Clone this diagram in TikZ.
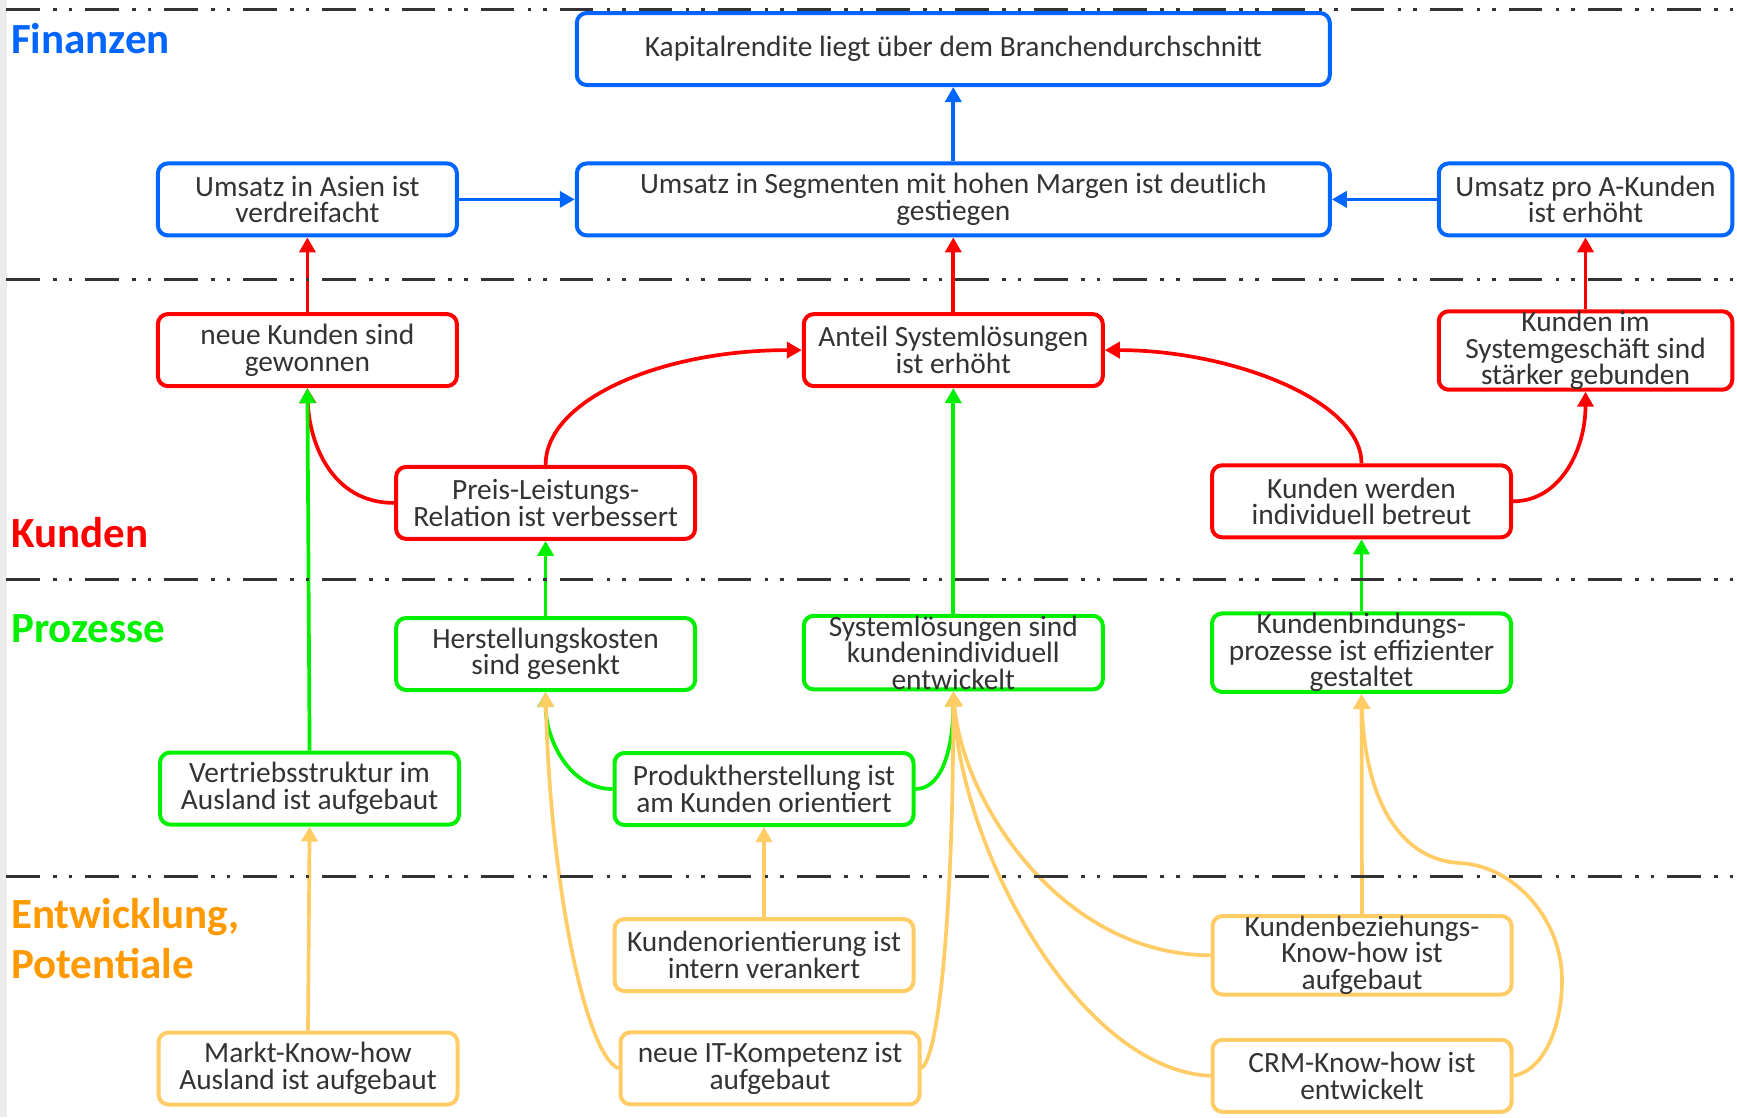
\documentclass[tikz,border=0pt]{standalone}
\usepackage{fontspec}
\setmainfont{Carlito}
\usetikzlibrary{arrows.meta}
\definecolor{cblue}{HTML}{0066FF}
\definecolor{cred}{HTML}{FF0000}
\definecolor{cgreen}{HTML}{00F000}
\definecolor{corange}{HTML}{FFCC66}
\definecolor{clab}{HTML}{FF9900}
\definecolor{ctext}{HTML}{333333}
\definecolor{cline}{HTML}{333333}
\begin{document}
\begin{tikzpicture}[x=1pt,y=-1pt,
  box/.style={draw, rounded corners=10pt, line width=4pt, fill=white,
    minimum width=299pt, minimum height=72pt, inner sep=0pt, align=center,
    text=ctext, font=\fontsize{29.4}{26.5}\selectfont},
  wide/.style={minimum width=753pt},
  narrow/.style={minimum width=293.5pt},
  fin/.style={box, draw=cblue},
  kun/.style={box, draw=cred},
  pro/.style={box, draw=cgreen},
  ent/.style={box, draw=corange},
  conn/.style={line width=3.7pt, -{Triangle[length=15pt,width=16pt]}},
  bconn/.style={conn, draw=cblue},
  rconn/.style={conn, draw=cred},
  gconn/.style={conn, draw=cgreen},
  oconn/.style={conn, draw=corange},
  sepline/.style={draw=cline, line width=3.4pt,
    dash pattern=on 33.5pt off 13.4pt on 3.6pt off 12pt on 3.6pt off 13pt},
  lab/.style={anchor=base west, inner sep=0pt, font=\fontsize{43}{50}\selectfont\bfseries}
]
\useasboundingbox (0,0) rectangle (1737,1117);
\fill[white] (0,0) rectangle (1737,1117);
\fill[gray!15] (0,0) rectangle (6.5,1117);

% nodes
\node[fin, wide] (K) at (953.3,49) {Kapitalrendite liegt über dem Branchendurchschnitt};
\node[fin, wide] (US) at (953.3,199.4) {Umsatz in Segmenten mit hohen Margen ist deutlich\\gestiegen};
\node[fin] (UA) at (307.4,199.4) {Umsatz in Asien ist\\verdreifacht};
\node[fin, narrow] (UP) at (1585.5,199.4) {Umsatz pro A-Kunden\\ist erhöht};

\node[kun] (NK) at (307.4,350.1) {neue Kunden sind\\gewonnen};
\node[kun] (AS) at (953.3,350.1) {Anteil Systemlösungen\\ist erhöht};
\node[kun, narrow] (KS) at (1585.5,350.5) {Kunden im\\Systemgeschäft sind\\stärker gebunden};
\node[kun] (PL) at (545.6,502.9) {Preis-Leistungs-\\Relation ist verbessert};
\node[kun] (KI) at (1361.5,501.3) {Kunden werden\\individuell betreut};

\node[pro] (HK) at (545.6,654) {Herstellungskosten\\sind gesenkt};
\node[pro] (SL) at (953.3,652.6) {Systemlösungen sind\\kundenindividuell\\entwickelt};
\node[pro] (KB) at (1361.5,652.7) {Kundenbindungs-\\prozesse ist effizienter\\gestaltet};
\node[pro] (VS) at (309.6,788.5) {Vertriebsstruktur im\\Ausland ist aufgebaut};
\node[pro] (PH) at (764,789) {Produktherstellung ist\\am Kunden orientiert};

\node[ent] (KO) at (764,955) {Kundenorientierung ist\\intern verankert};
\node[ent] (MK) at (308,1068.5) {Markt-Know-how\\Ausland ist aufgebaut};
\node[ent] (IT) at (770,1068.3) {neue IT-Kompetenz ist\\aufgebaut};
\node[ent] (KBK) at (1362,955.3) {Kundenbeziehungs-\\Know-how ist\\aufgebaut};
\node[ent] (CRM) at (1362,1075.8) {CRM-Know-how ist\\entwickelt};

% blue connectors
\draw[bconn] (US.north) -- (K.south);
\draw[bconn] (UA.east) -- (US.west);
\draw[bconn] (UP.west) -- (US.east);

% red connectors
\draw[rconn] (NK.north) -- (UA.south);
\draw[rconn] (AS.north) -- (US.south);
\draw[rconn] (KS.north) -- (UP.south);
\draw[rconn] (PL.north) .. controls (545.6,400) and (660,350.1) .. (AS.west);
\draw[rconn] (PL.west) .. controls (330,503) and (309,440) .. (NK.south);
\draw[rconn] (KI.north) .. controls (1361.5,400) and (1230,350.1) .. (AS.east);
\draw[rconn] (KI.east) .. controls (1560,501.3) and (1585.5,450) .. (KS.south);

% green connectors
\draw[gconn] (HK.north) -- (PL.south);
\draw[gconn] (SL.north) -- (AS.south);
\draw[gconn] (KB.north) -- (KI.south);
\draw[gconn] (VS.north) -- (NK.south);
\draw[gconn] (PH.west) .. controls (570,789) and (545.6,740) .. (HK.south);
\draw[gconn] (PH.east) .. controls (945,789) and (953.3,740) .. (SL.south);

% orange connectors
\draw[oconn] (MK.north) -- (VS.south);
\draw[oconn] (KO.north) -- (PH.south);
\draw[oconn] (KBK.north) -- (KB.south);
\draw[oconn] (IT.west) .. controls (585,1055) and (550,880) .. (HK.south);
\draw[oconn] (IT.east) .. controls (940,1055) and (953.3,900) .. (SL.south);
\draw[oconn] (KBK.west) .. controls (1060,955) and (962,800) .. (SL.south);
\draw[oconn] (CRM.west) .. controls (1080,1070) and (960,850) .. (SL.south);
\coordinate (crmA) at (1562,980);
\coordinate (crmB) at (1460,863);
\draw[oconn] (CRM.east) .. controls (1545,1070) and (1562,1025) .. (crmA)
  .. controls (1562,920) and (1515,866) .. (crmB)
  .. controls (1400,860) and (1365,800) .. (KB.south);

% separator lines
\draw[sepline] (6,9.3) -- (1737,9.3);
\draw[sepline] (6,279.3) -- (1737,279.3);
\draw[sepline] (6,579.3) -- (1737,579.3);
\draw[sepline] (6,876.5) -- (1737,876.5);
\fill[white] (6.5,10.7) rectangle (340,62);

% section labels
\node[lab, text=cblue] (lfin) at (11,53) {Finanzen};
\node[lab, text=cred] (lkun) at (11,547) {Kunden};
\node[lab, text=cgreen] (lpro) at (11,642) {Prozesse};
\node[lab, text=clab] (lent1) at (11,928.3) {Entwicklung,};
\node[lab, text=clab] (lent2) at (11,978.3) {Potentiale};
\end{tikzpicture}
\end{document}
